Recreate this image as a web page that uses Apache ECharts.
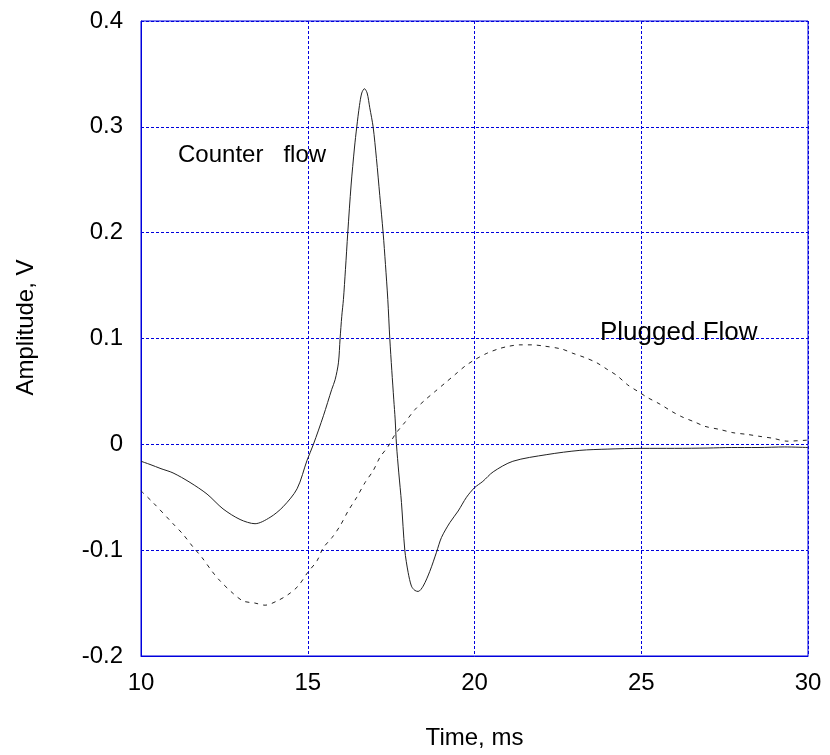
<!DOCTYPE html>
<html>
<head>
<meta charset="utf-8">
<script src="https://cdn.jsdelivr.net/npm/echarts@6/dist/echarts.min.js"></script>
<style>html,body{margin:0;padding:0;background:#fff;}#main{width:830px;height:755px;}</style>
</head>
<body>
<div id="main"></div>
<script>
const xTicks = [10, 15, 20, 25, 30];
const yTicks = [-0.2, -0.1, 0, 0.1, 0.2, 0.3, 0.4];

const counterTime = [10, 10.27, 10.6, 10.96, 11.47, 11.98, 12.46, 12.97, 13.42, 13.87, 14.26, 14.68, 14.98, 15.17, 15.47, 15.72, 15.82, 15.92, 15.97, 16.02, 16.07, 16.13, 16.2, 16.3, 16.4, 16.47, 16.55, 16.62, 16.7, 16.78, 16.86, 16.96, 17.06, 17.16, 17.26, 17.33, 17.4, 17.46, 17.52, 17.58, 17.62, 17.66, 17.73, 17.81, 17.91, 18.01, 18.11, 18.21, 18.31, 18.46, 18.66, 18.86, 19.01, 19.26, 19.51, 19.76, 20.0, 20.25, 20.56, 21.15, 22.17, 23.16, 24, 25, 26, 27, 27.7, 28.5, 29.3, 30];
const counterAmp = [-0.016, -0.019, -0.023, -0.027, -0.036, -0.047, -0.061, -0.071, -0.075, -0.069, -0.059, -0.042, -0.015, 0, 0.027, 0.052, 0.061, 0.077, 0.1, 0.121, 0.137, 0.165, 0.2, 0.245, 0.28, 0.3, 0.32, 0.332, 0.336, 0.332, 0.318, 0.3, 0.27, 0.235, 0.2, 0.17, 0.137, 0.1, 0.07, 0.042, 0.024, 0, -0.027, -0.055, -0.1, -0.121, -0.134, -0.138, -0.139, -0.134, -0.12, -0.102, -0.088, -0.074, -0.063, -0.05, -0.041, -0.035, -0.026, -0.016, -0.0097, -0.0057, -0.0045, -0.0038, -0.0038, -0.0035, -0.003, -0.003, -0.0025, -0.003];

const pluggedTime = [10, 10.36, 10.96, 11.26, 11.56, 11.83, 12.13, 12.37, 12.73, 13.06, 13.42, 13.72, 14.08, 14.41, 14.71, 15.0, 15.28, 15.46, 15.73, 15.97, 16.21, 16.47, 16.72, 16.96, 17.17, 17.41, 17.62, 17.92, 18.22, 18.52, 18.82, 19.12, 19.42, 19.72, 20.01, 20.37, 20.7, 21.0, 21.36, 21.72, 22.05, 22.62, 22.95, 23.31, 23.67, 23.97, 24.27, 24.6, 24.9, 25.2, 25.56, 25.92, 26.22, 26.61, 26.91, 27.36, 27.75, 28.17, 28.56, 28.95, 29.37, 30];
const pluggedAmp = [-0.044, -0.055, -0.075, -0.085, -0.097, -0.107, -0.12, -0.129, -0.14, -0.148, -0.15, -0.152, -0.148, -0.142, -0.134, -0.121, -0.11, -0.098, -0.088, -0.077, -0.063, -0.05, -0.036, -0.025, -0.012, -0.002, 0.0094, 0.021, 0.033, 0.042, 0.05, 0.058, 0.066, 0.074, 0.08, 0.086, 0.09, 0.0925, 0.094, 0.094, 0.093, 0.09, 0.086, 0.082, 0.077, 0.071, 0.065, 0.056, 0.05, 0.044, 0.038, 0.031, 0.026, 0.021, 0.017, 0.014, 0.011, 0.0094, 0.0075, 0.0057, 0.003, 0.004];

const seriesNames = ['Counter flow', 'Plugged Flow'];

const pairs = (xs, ys) => xs.map((x, i) => [x, ys[i]]);
const FONT = '"Liberation Sans", Arial, sans-serif';
const gridLine = { show: true, lineStyle: { color: '#0000dd', width: 1, type: [3, 2] } };

const chart = echarts.init(document.getElementById('main'), null, { renderer: 'canvas' });
chart.setOption({
  animation: false,
  backgroundColor: '#fff',
  grid: { left: 141, right: 22, top: 21, bottom: 98, show: true, borderColor: '#0000dd', borderWidth: 1, containLabel: false },
  xAxis: {
    type: 'value', min: xTicks[0], max: xTicks[xTicks.length - 1], interval: 5,
    name: 'Time, ms', nameLocation: 'middle', nameGap: 70,
    nameTextStyle: { fontFamily: FONT, fontSize: 24, color: '#000' },
    axisLine: { show: true, onZero: false, lineStyle: { color: '#0000dd', width: 1 } },
    axisTick: { show: false },
    axisLabel: { fontFamily: FONT, fontSize: 24, color: '#000', margin: 15 },
    splitLine: gridLine
  },
  yAxis: {
    type: 'value', min: yTicks[0], max: yTicks[yTicks.length - 1], interval: 0.1,
    name: 'Amplitude, V', nameLocation: 'middle', nameGap: 103,
    nameTextStyle: { fontFamily: FONT, fontSize: 24, color: '#000', padding: [0, 0, 0, 22] },
    axisLine: { show: true, onZero: false, lineStyle: { color: '#0000dd', width: 1 } },
    axisTick: { show: false },
    axisLabel: { fontFamily: FONT, fontSize: 24, color: '#000', margin: 18,
      formatter: v => { const r = Math.round(v * 10) / 10; return r === 0 ? '0' : String(r); } },
    splitLine: gridLine
  },
  series: [
    { name: seriesNames[0], type: 'line', data: pairs(counterTime, counterAmp), showSymbol: false, smooth: 0.3,
      lineStyle: { color: '#222', width: 1 }, z: 3 },
    { name: seriesNames[1], type: 'line', data: pairs(pluggedTime, pluggedAmp), showSymbol: false, smooth: 0.3,
      lineStyle: { color: '#222', width: 1, type: [4, 5] }, z: 3 }
  ],
  graphic: [
    { type: 'text', left: 178, top: 143, style: { text: 'Counter   flow', font: '24px ' + FONT, fill: '#000' }, z: 10 },
    { type: 'text', left: 600, top: 320, style: { text: 'Plugged Flow', font: '26px ' + FONT, fill: '#000' }, z: 10 }
  ]
});
</script>
</body>
</html>
